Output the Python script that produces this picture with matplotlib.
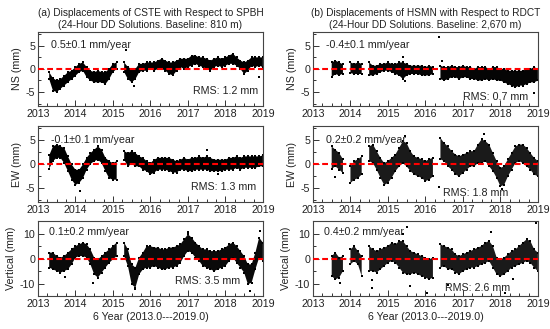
import numpy as np
import matplotlib
matplotlib.use('Agg')
import matplotlib.pyplot as plt
from matplotlib.ticker import MultipleLocator

plt.rcParams['font.family'] = ['Liberation Sans', 'DejaVu Sans']
plt.rcParams['axes.unicode_minus'] = False

n = np.nan
# sampling epochs (years)
t = [2013.0, 2013.1, 2013.2, 2013.3, 2013.4, 2013.5, 2013.6, 2013.7, 2013.8, 2013.9,
     2014.0, 2014.1, 2014.2, 2014.3, 2014.4, 2014.5, 2014.6, 2014.7, 2014.8, 2014.9,
     2015.0, 2015.1, 2015.2, 2015.3, 2015.4, 2015.5, 2015.6, 2015.7, 2015.8, 2015.9,
     2016.0, 2016.1, 2016.2, 2016.3, 2016.4, 2016.5, 2016.6, 2016.7, 2016.8, 2016.9,
     2017.0, 2017.1, 2017.2, 2017.3, 2017.4, 2017.5, 2017.6, 2017.7, 2017.8, 2017.9,
     2018.0, 2018.1, 2018.2, 2018.3, 2018.4, 2018.5, 2018.6, 2018.7, 2018.8, 2018.9,
     2019.0]

# (a) CSTE wrt SPBH -- NS
cste_ns_lo = [n, n, n, -2.2, -4.7, -5.0, -4.3, -3.6, -2.9, -2.2,
              -1.5, -0.7, -0.4, -1.8, -2.5, -2.9, -2.9, -2.9, -3.3, -2.2,
              -0.7, 0.0, n, -0.7, -2.2, -2.9, -2.2, -0.7, -0.4, -0.4,
              0.0, -0.4, 0.0, 0.0, -0.4, -1.1, -1.4, -0.4, 0.4, 0.0,
              0.4, 0.7, 1.1, 0.7, 0.4, 0.0, -0.4, 0.4, 0.7, 0.4,
              0.7, 1.1, 1.1, 0.7, 0.0, -1.1, -0.4, 0.7, 0.4, 0.7,
              0.4]
cste_ns_hi = [n, n, n, -0.7, -2.0, -2.5, -2.2, -1.5, -0.7, -0.4,
              0.4, 1.1, 1.4, 0.4, -0.4, -0.7, -0.4, -0.7, -0.7, 0.0,
              1.1, 1.4, n, 1.4, 0.4, 0.0, 0.0, 1.1, 1.1, 1.4,
              1.4, 1.4, 1.8, 2.2, 1.8, 1.4, 1.4, 1.8, 2.2, 2.2,
              2.2, 2.9, 2.9, 2.5, 2.5, 2.2, 1.8, 2.2, 2.5, 2.2,
              2.5, 2.9, 3.3, 2.5, 1.8, 1.4, 1.8, 2.5, 2.5, 2.5,
              2.5]
cste_ns_out_t = [2015.35, 2015.57, 2018.89]
cste_ns_out_v = [4.0, -3.6, -1.8]

# (b) HSMN wrt RDCT -- NS
hsmn_ns_lo = [n, n, n, n, n, -1.8, -1.1, -1.4, -1.0, n,
              -0.9, -1.1, -1.1, -1.1, n, -1.4, -1.4, -1.1, -0.7, -0.4,
              -0.4, -0.7, -1.1, -1.4, -2.2, -1.4, -1.1, -1.1, -1.1, -1.4,
              -1.4, -1.4, -1.1, n, -2.2, -2.5, -2.2, -1.8, -1.8, -2.2,
              -1.8, -1.8, -2.2, -2.2, -2.5, -2.5, -2.2, -2.5, -2.2, -2.5,
              -2.5, -2.9, -3.3, -3.6, -4.0, -3.6, -3.6, -3.3, -2.9, -2.9,
              -2.5]
hsmn_ns_hi = [n, n, n, n, n, 1.4, 1.8, 1.4, 1.0, n,
              1.4, 1.1, 1.4, 1.1, n, 1.4, 0.7, 0.7, 1.1, 1.1,
              1.4, 1.1, 1.1, 1.4, 1.4, 1.1, 0.7, 0.7, 0.7, 0.7,
              0.4, 0.7, 0.4, n, 0.7, 0.4, 0.4, 0.7, 0.4, 0.4,
              0.7, 0.4, 0.4, 0.0, 0.4, 0.4, 0.4, 0.0, 0.4, 0.4,
              0.0, 0.0, -0.4, -0.4, -0.4, -0.4, -0.4, 0.0, 0.0, 0.4,
              0.0]
hsmn_ns_out_t = [2016.37, 2018.89, 2015.4, 2015.45, 2016.45]
hsmn_ns_out_v = [7.0, -5.1, 2.5, -2.6, 1.8]

# (a) CSTE -- EW
cste_ew_lo = [n, n, n, -1.0, 0.6, 1.3, 1.3, 0.2, -1.5, -3.3,
              -4.4, -4.0, -3.0, -1.2, 0.0, 0.6, 0.9, 0.2, -1.5, -3.0,
              -3.3, -3.3, n, 0.9, -0.5, 0.0, -0.5, -0.5, -1.2, -1.5,
              -2.2, -1.8, -1.2, -1.2, -1.2, -1.5, -1.8, -1.8, -1.2, -1.2,
              -1.5, -1.5, -1.2, -1.2, -1.2, -1.2, -1.5, -1.5, -1.5, -1.5,
              -1.2, -1.2, -1.2, -0.8, -1.2, -0.8, -0.8, -0.8, -0.8, -0.5,
              -0.5]
cste_ew_hi = [n, n, n, 1.8, 3.7, 4.1, 3.7, 3.4, 1.6, -0.1,
              -1.2, -1.2, -0.1, 1.3, 2.3, 3.0, 3.7, 3.0, 1.3, 0.6,
              0.2, 0.6, n, 2.7, 2.3, 2.7, 2.3, 1.6, 1.3, 0.6,
              0.2, 0.9, 1.3, 1.3, 1.3, 1.3, 0.9, 0.6, 0.9, 1.3,
              0.9, 1.3, 1.3, 1.6, 1.3, 1.6, 1.3, 0.9, 0.9, 0.9,
              0.9, 1.3, 1.3, 1.6, 1.3, 1.6, 1.6, 1.6, 1.6, 1.6,
              1.8]
cste_ew_out_t = [2014.13, 2017.52, 2017.8]
cste_ew_out_v = [-5.6, 3.0, -2.2]

# (b) HSMN -- EW
hsmn_ew_lo = [n, n, n, n, n, -1.0, -0.5, -1.2, -1.9, n,
              -4.0, -3.3, -3.0, -2.2, n, 0.6, 0.2, -1.2, -2.9, -4.4,
              -4.0, -2.9, -1.5, -0.5, 0.2, -0.5, -1.5, -2.2, -2.6, -2.9,
              -3.6, -3.3, -2.6, n, 1.0, 0.6, -0.5, -1.2, -2.2, -2.6,
              -1.9, -1.2, -0.5, -0.5, 0.2, 0.2, 0.6, -0.5, -1.5, -2.9,
              -4.7, -4.4, -2.6, -1.2, 0.2, 0.6, 0.2, -0.5, -1.2, -2.2,
              -2.6]
hsmn_ew_hi = [n, n, n, n, n, 3.7, 3.0, 2.3, 1.0, n,
              -0.5, 0.6, 1.0, 1.6, n, 3.7, 4.1, 2.7, 1.3, 0.2,
              0.6, 1.3, 2.0, 3.4, 4.8, 4.4, 2.7, 1.6, 1.3, 1.0,
              0.6, 1.0, 1.3, n, 5.5, 4.4, 3.7, 2.7, 2.0, 1.6,
              2.0, 2.3, 2.7, 2.7, 4.1, 5.2, 4.8, 4.1, 2.3, 0.6,
              -0.8, -0.5, 1.0, 2.3, 3.7, 4.1, 4.1, 3.4, 2.3, 1.3,
              0.6]
hsmn_ew_out_t = [2016.37, 2016.35, 2013.6, 2015.45, 2017.55, 2018.05]
hsmn_ew_out_v = [7.9, -4.9, -2.8, 5.8, 6.3, -5.2]

# (a) CSTE -- Vertical
cste_up_lo = [n, n, n, -3.6, -4.3, -5.0, -5.6, -5.0, -4.3, -2.3,
              0.4, 1.0, 1.0, 0.4, -2.3, -6.3, -7.6, -5.6, -3.6, -1.7,
              -0.3, 1.0, n, 1.0, -3.0, -10.3, -11.6, -6.3, -4.3, -3.6,
              -3.6, -3.0, -3.6, -4.3, -4.3, -3.6, -3.6, -3.0, -1.7, 1.0,
              3.0, 2.4, 0.4, -1.0, -3.0, -3.6, -4.3, -5.0, -4.3, -3.6,
              -3.0, -1.0, 0.4, -1.7, -3.6, -5.6, -10.3, -9.6, -4.3, 0.4,
              -1.0]
cste_up_hi = [n, n, n, 2.4, 2.4, 1.0, 0.4, 1.0, 2.4, 3.7,
              5.0, 5.7, 6.4, 5.7, 3.7, 0.4, -0.3, 1.0, 2.4, 3.7,
              5.0, 6.4, n, 6.4, 3.7, -2.3, -3.6, 0.4, 2.4, 5.0,
              5.0, 4.4, 4.4, 3.7, 3.7, 4.4, 4.4, 5.0, 5.7, 7.7,
              9.7, 8.4, 6.4, 5.0, 3.7, 3.7, 3.0, 3.0, 3.0, 3.7,
              4.4, 5.7, 6.4, 5.0, 3.0, 1.0, -2.3, -2.3, 2.4, 8.4,
              6.4]
cste_up_out_t = [2014.48, 2017.0, 2018.93, 2018.65, 2015.58, 2013.72]
cste_up_out_v = [-9.6, 10.5, 11.0, -13.0, -12.3, -7.4]

# (b) HSMN -- Vertical
hsmn_up_lo = [n, n, n, n, n, -7.0, -8.3, -7.6, -5.0, n,
              -2.3, -1.0, -2.3, -7.0, n, -5.0, -5.0, -5.6, -4.3, -3.0,
              -1.7, -1.0, -1.7, -3.6, -5.6, -6.3, -6.3, -5.6, -6.3, -7.0,
              -7.6, -8.3, -7.6, n, -3.6, -3.0, -4.3, -4.3, -5.6, -6.3,
              -5.0, -4.3, -3.6, -3.6, -3.0, -2.3, -1.7, -1.0, -3.6, -6.3,
              -7.0, -6.3, -5.0, -3.6, -3.0, -2.3, -1.7, -1.0, -1.7, -3.6,
              -5.0]
hsmn_up_hi = [n, n, n, n, n, 1.0, 2.4, 0.4, 1.0, n,
              3.7, 5.0, 3.0, 1.0, n, 5.0, 3.7, 3.0, 3.7, 4.4,
              5.0, 6.4, 5.7, 7.0, 7.0, 5.0, 3.0, 2.4, 1.7, 1.0,
              0.4, -0.3, 0.4, n, 5.7, 5.0, 4.4, 3.7, 1.7, 1.0,
              1.7, 2.4, 3.0, 3.7, 4.4, 5.0, 6.4, 7.0, 5.0, 0.4,
              -0.3, 0.4, 1.7, 3.0, 3.7, 5.0, 6.4, 7.7, 7.0, 3.7,
              2.4]
hsmn_up_out_t = [2013.73, 2014.57, 2014.57, 2015.5, 2015.4, 2015.59, 2016.03,
                 2017.75, 2018.95, 2016.6, 2018.12, 2018.33]
hsmn_up_out_v = [-9.8, -8.7, -11.6, 12.5, 10.0, -11.0, -13.9,
                 10.5, 14.4, -10.7, -13.8, -8.3]

titles = ["(a) Displacements of CSTE with Respect to SPBH\n(24-Hour DD Solutions. Baseline: 810 m)",
          "(b) Displacements of HSMN with Respect to RDCT\n(24-Hour DD Solutions. Baseline: 2,670 m)"]
rates = [["0.5\u00b10.1 mm/year", "-0.1\u00b10.1 mm/year", "0.1\u00b10.2 mm/year"],
         ["-0.4\u00b10.1 mm/year", "0.2\u00b10.2 mm/year", "0.4\u00b10.2 mm/year"]]
rms = [["RMS: 1.2 mm", "RMS: 1.3 mm", "RMS: 3.5 mm"],
       ["RMS: 0.7 mm", "RMS: 1.8 mm", "RMS: 2.6 mm"]]
ylabels = ["NS (mm)", "EW (mm)", "Vertical (mm)"]
xlabel = "6 Year (2013.0---2019.0)"
xticks = [2013, 2014, 2015, 2016, 2017, 2018, 2019]

series = [[(cste_ns_lo, cste_ns_hi, cste_ns_out_t, cste_ns_out_v),
           (cste_ew_lo, cste_ew_hi, cste_ew_out_t, cste_ew_out_v),
           (cste_up_lo, cste_up_hi, cste_up_out_t, cste_up_out_v)],
          [(hsmn_ns_lo, hsmn_ns_hi, hsmn_ns_out_t, hsmn_ns_out_v),
           (hsmn_ew_lo, hsmn_ew_hi, hsmn_ew_out_t, hsmn_ew_out_v),
           (hsmn_up_lo, hsmn_up_hi, hsmn_up_out_t, hsmn_up_out_v)]]

fig = plt.figure(figsize=(5.5, 3.29), dpi=100)
lefts = [0.069, 0.569]
width = 0.409
rows = [(0.678, 0.225), (0.386, 0.231), (0.100, 0.228)]
ylims = [(-8, 8), (-8, 8), (-15, 15)]
ymaj = [5, 5, 10]
ymin = [2.5, 2.5, 5]
rms_pos = [[(0.978, 0.20), (0.97, 0.20), (0.90, 0.20)],
           [(0.956, 0.12), (0.867, 0.115), (0.876, 0.107)]]
rate_y = [0.82, 0.82, 0.86]
band_col = [['#000000', '#000000', '#0a0a0a'], ['#050505', '#1a1a1a', '#1a1a1a']]
fs = 7.3
tfs = 7.7

for c in range(2):
    for r in range(3):
        b, h = rows[r]
        ax = fig.add_axes([lefts[c], b, width, h])
        lo, hi, ot, ov = series[c][r]
        tt = np.array(t); lo_a = np.array(lo, float); hi_a = np.array(hi, float)
        ax.fill_between(tt, lo_a, hi_a, color=band_col[c][r], lw=0, zorder=2)
        ax.scatter(tt, lo_a, s=4, marker='s', c='black', lw=0, zorder=2)
        ax.scatter(tt, hi_a, s=4, marker='s', c='black', lw=0, zorder=2)
        ax.scatter(ot, ov, s=4, marker='s', c='black', lw=0, zorder=2)
        ax.axhline(0, color='#ff0000', lw=1.5, dashes=(2.8, 1.6), zorder=3)
        ax.set_xlim(2013, 2019)
        ax.set_ylim(*ylims[r])
        ax.set_xticks(xticks)
        ax.xaxis.set_minor_locator(MultipleLocator(0.25))
        ax.yaxis.set_major_locator(MultipleLocator(ymaj[r]))
        ax.yaxis.set_minor_locator(MultipleLocator(ymin[r]))
        ax.tick_params(which='both', direction='in', top=False, right=False,
                       labelsize=tfs, pad=2, width=0.7, colors='#333333', labelcolor='#222222')
        ax.tick_params(which='major', length=4)
        ax.tick_params(which='minor', length=2.5)
        for sp in ax.spines.values():
            sp.set_linewidth(0.8)
            sp.set_color('#444444')
        ax.set_ylabel(ylabels[r], fontsize=tfs, color='#222222', labelpad=3)
        ax.text(0.058 if r < 2 else 0.048, rate_y[r], rates[c][r], transform=ax.transAxes,
                ha='left', va='center', fontsize=tfs, color='#222222', zorder=4)
        ax.text(rms_pos[c][r][0], rms_pos[c][r][1], rms[c][r], transform=ax.transAxes,
                ha='right', va='center', fontsize=tfs, color='#222222', zorder=4)
    xc = lefts[c] + width / 2
    fig.text(xc, 0.943, titles[c], ha='center', va='center', fontsize=fs,
             color='#222222', linespacing=1.25)
    fig.text(xc, 0.036, xlabel, ha='center', va='center', fontsize=tfs, color='#222222')

fig.savefig('out.png', dpi=100)
